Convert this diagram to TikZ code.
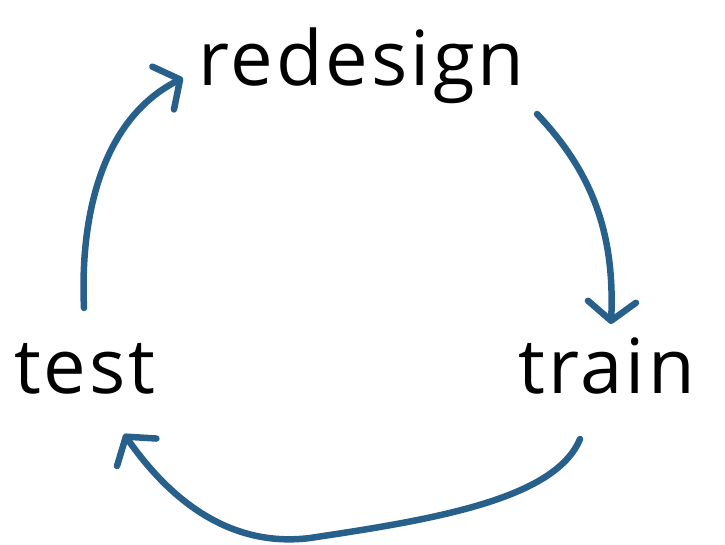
\documentclass[tikz,border=0pt]{standalone}
\usepackage{fontspec}
\setmainfont{Open Sans}[LetterSpace=4]
\usetikzlibrary{arrows.meta}
\definecolor{arrowblue}{RGB}{40,96,140}
\tikzset{
  lbl/.style={inner sep=0pt, font=\fontsize{76}{80}\selectfont, text=black},
  flow/.style={draw=arrowblue, line width=6.5pt, line cap=round,
    -{Straight Barb[length=19pt,width=48pt,line width=6.5pt,round]}}
}
\begin{document}
\begin{tikzpicture}[x=1pt,y=-1pt]
\useasboundingbox (0,0) rectangle (725,545);
\node[lbl, anchor=base west] (redesign) at (198,86) {redesign};
\node[lbl, anchor=base west] (test) at (14,393) {test};
\node[lbl, anchor=base west] (train) at (518,393) {train};
\coordinate (s1) at (84,308);
\coordinate (e1) at (183,78);
\coordinate (s2) at (537,114);
\coordinate (e2) at (611,324);
\coordinate (s3) at (580,439);
\coordinate (e3) at (124,434);
\draw[flow] (s1) .. controls (80,220) and (100,120) .. (e1);
\draw[flow] (s2) .. controls (590,170) and (615,230) .. (e2);
\draw[flow] (s3) .. controls (555,500) and (430,520) .. (310,538)
  .. controls (230,548) and (170,500) .. (e3);
\end{tikzpicture}
\end{document}
